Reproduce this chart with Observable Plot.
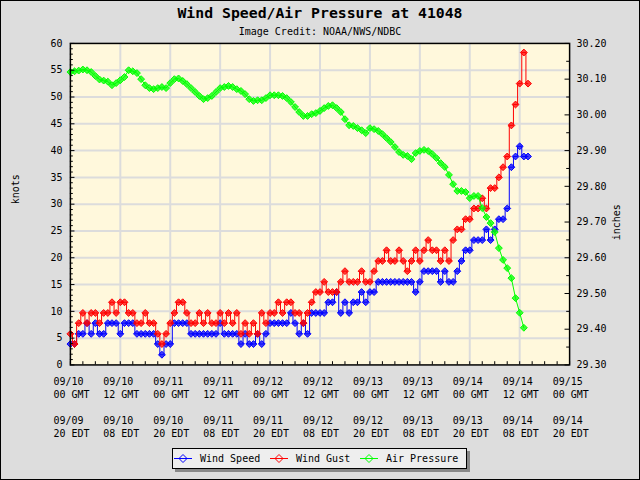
<!DOCTYPE html>
<html><head><meta charset="utf-8">
<script src="https://cdn.jsdelivr.net/npm/d3@7"></script>
<script src="https://cdn.jsdelivr.net/npm/@observablehq/plot@0.6"></script>
<style>
html,body{margin:0;padding:0;background:#DDDDDD;}
#chart{position:relative;width:640px;height:480px;background:#DDDDDD;box-sizing:border-box;border:1px solid #000;overflow:hidden;font-family:"DejaVu Sans Mono",monospace;color:#000;}
#title{position:absolute;left:0;width:638px;top:3px;text-align:center;font-weight:bold;font-size:14.8px;line-height:18px;}
#sub{position:absolute;left:0;width:638px;top:24px;text-align:center;font-size:10px;line-height:13px;}
#plot{position:absolute;left:-1px;top:-1px;}
#legend{position:absolute;left:171px;top:447px;width:293px;height:19px;background:#EEEEEE;border:1px solid #000;box-shadow:3px 3px 0 #888;font-size:10px;}
#legend .sw{position:absolute;top:4px;}
#legend .lb{position:absolute;top:3px;line-height:13px;white-space:pre;}
</style></head>
<body>
<div id="chart">
  <div id="title">Wind Speed/Air Pressure at 41048</div>
  <div id="sub">Image Credit: NOAA/NWS/NDBC</div>
  <div id="plot"></div>
  <div id="legend"></div>
</div>
<script>
// ---- data (hourly, starting 2018-09-10 00:00 GMT) ----
const windSpeed = [
 3.9,3.9,5.8,5.8,7.8,5.8,7.8,5.8,5.8,7.8,
 7.8,7.8,5.8,7.8,7.8,7.8,5.8,5.8,5.8,5.8,
 5.8,3.9,1.9,3.9,3.9,7.8,7.8,7.8,7.8,5.8,
 5.8,5.8,5.8,5.8,5.8,5.8,7.8,5.8,5.8,5.8,
 5.8,3.9,5.8,3.9,3.9,5.8,3.9,5.8,7.8,7.8,
 7.8,7.8,7.8,9.7,7.8,5.8,7.8,5.8,9.7,9.7,
 9.7,9.7,11.7,11.7,13.6,9.7,11.7,9.7,11.7,11.7,
 13.6,11.7,13.6,13.6,15.5,15.5,15.5,15.5,15.5,15.5,
 15.5,15.5,15.5,13.6,15.5,17.5,17.5,17.5,17.5,15.5,
 17.5,15.5,15.5,17.5,19.4,21.4,21.4,23.3,23.3,23.3,
 25.3,23.3,25.3,27.2,27.2,29.2,36.9,38.9,40.8,38.9,
 38.9
];
const windGust = [
 5.8,3.9,7.8,9.7,7.8,9.7,9.7,7.8,9.7,9.7,
 11.7,9.7,11.7,11.7,9.7,9.7,7.8,7.8,9.7,7.8,
 7.8,5.8,3.9,5.8,7.8,9.7,11.7,11.7,9.7,7.8,
 7.8,9.7,7.8,9.7,7.8,7.8,9.7,7.8,9.7,7.8,
 9.7,5.8,7.8,5.8,7.8,5.8,9.7,7.8,9.7,9.7,
 11.7,9.7,11.7,11.7,9.7,9.7,7.8,9.7,11.7,13.6,
 13.6,15.5,13.6,13.6,13.6,15.5,17.5,15.5,15.5,15.5,
 17.5,15.5,15.5,17.5,19.4,19.4,21.4,19.4,19.4,21.4,
 19.4,17.5,19.4,21.4,19.4,21.4,23.3,21.4,21.4,19.4,
 21.4,19.4,23.3,25.3,25.3,27.2,27.2,29.2,29.2,31.1,
 29.2,33.0,33.0,35.0,36.9,38.9,44.7,48.6,52.5,58.3,
 52.5
];
const airPressure = [
 30.120,30.122,30.124,30.127,30.125,30.120,30.109,30.099,30.096,30.093,
 30.083,30.089,30.097,30.106,30.125,30.122,30.117,30.100,30.083,30.075,
 30.072,30.075,30.078,30.075,30.089,30.100,30.102,30.095,30.086,30.075,
 30.064,30.053,30.044,30.047,30.053,30.064,30.075,30.078,30.081,30.078,
 30.072,30.067,30.058,30.044,30.039,30.041,30.041,30.047,30.055,30.055,
 30.055,30.053,30.047,30.036,30.022,30.008,29.997,29.997,30.002,30.005,
 30.011,30.019,30.025,30.027,30.019,30.008,29.988,29.971,29.969,29.963,
 29.957,29.949,29.963,29.960,29.955,29.946,29.935,29.924,29.910,29.896,
 29.888,29.885,29.876,29.893,29.899,29.902,29.899,29.890,29.879,29.865,
 29.854,29.832,29.806,29.787,29.787,29.784,29.767,29.773,29.773,29.739,
 29.714,29.697,29.672,29.627,29.594,29.571,29.543,29.487,29.446,29.404
];
// tick labels
const gmtDate = ["09/10","09/10","09/11","09/11","09/12","09/12","09/13","09/13","09/14","09/14","09/15"];
const gmtHour = ["00 GMT","12 GMT","00 GMT","12 GMT","00 GMT","12 GMT","00 GMT","12 GMT","00 GMT","12 GMT","00 GMT"];
const edtDate = ["09/09","09/10","09/10","09/11","09/11","09/12","09/12","09/13","09/13","09/14","09/14"];
const edtHour = ["20 EDT","08 EDT","20 EDT","08 EDT","20 EDT","08 EDT","20 EDT","08 EDT","20 EDT","08 EDT","20 EDT"];
const knotTicks = [0,5,10,15,20,25,30,35,40,45,50,55,60];
const inchTicks = [29.30,29.40,29.50,29.60,29.70,29.80,29.90,30.00,30.10,30.20];
const seriesNames = ["Wind Speed","Wind Gust","Air Pressure"];
const seriesColors = ["#0000FF","#FF0000","#00FF00"];

// ---- build ----
const t0 = Date.UTC(2018,8,10,0);
const H = 3600e3;
const start = new Date(t0), end = new Date(t0 + 120*H);
const at = h => new Date(t0 + h*H);
const pMin = 29.3, pMax = 30.2, kMax = 60;
const toKt = p => (p - pMin) / (pMax - pMin) * kMax;

const ws = windSpeed.map((v,i)=>({t:at(i), v}));
const wg = windGust.map((v,i)=>({t:at(i), v}));
const ap = airPressure.map((v,i)=>({t:at(i), v: toKt(v)}));

const majorX = gmtDate.map((d,i)=>at(i*12));
const gridX = majorX.slice(1,-1);
const minorX = d3.range(0,121,3).map(at);
const minorK = d3.range(0,61,1);
const minorP = d3.range(0,19).map(i => toKt(pMin + i*0.05));
const majorP = inchTicks.map(toKt);

const dotOpts = (c) => ({x:"t", y:"v", symbol:"diamond2", r:3.1, stroke: c, fill: c, fillOpacity: 0.75, strokeWidth: 1});

const plot = Plot.plot({
  width: 640, height: 480,
  marginLeft: 70, marginRight: 70, marginTop: 43, marginBottom: 115,
  style: {background: "transparent", fontFamily: "DejaVu Sans Mono", fontSize: "10px", color: "#000", overflow: "visible"},
  x: {type: "utc", domain: [start, end], axis: null},
  y: {domain: [0, 60], axis: null},
  marks: [
    Plot.frame({fill: "#FFF8DC", stroke: null}),
    Plot.ruleX(gridX, {x: d=>d, stroke: "#DCDCDC", strokeWidth: 2}),
    Plot.ruleY(knotTicks.slice(1,-1), {y: d=>d, stroke: "#DCDCDC", strokeWidth: 2}),
    // series
    Plot.line(ws, {x:"t", y:"v", stroke: seriesColors[0], strokeWidth: 1, curve: "step"}),
    Plot.dot(ws, dotOpts(seriesColors[0])),
    Plot.line(wg, {x:"t", y:"v", stroke: seriesColors[1], strokeWidth: 1, curve: "step"}),
    Plot.dot(wg, dotOpts(seriesColors[1])),
    Plot.line(ap, {x:"t", y:"v", stroke: seriesColors[2], strokeWidth: 1}),
    Plot.dot(ap, dotOpts(seriesColors[2])),
    // ticks (inside)
    Plot.ruleX(minorX, {x: d=>d, y1: 0, y2: 0.6, stroke: "#000"}),
    Plot.ruleY(minorK, {y: d=>d, x1: () => start, x2: d => (d % 5 === 0 ? at(1.1) : at(0.7)), stroke: "#000"}),
    Plot.ruleY(minorP, {y: d=>d, x1: () => end, x2: (d,i) => (i % 2 === 0 ? at(120-1.1) : at(120-0.7)), stroke: "#000"}),
    Plot.frame({stroke: "#000", strokeWidth: 1.5}),
    // tick labels
    Plot.text(knotTicks, {y: d=>d, frameAnchor: "left", dx: -8, textAnchor: "end", text: d=>String(d), fill:"#000"}),
    Plot.text(majorP, {y: d=>d, frameAnchor: "right", dx: 7, textAnchor: "start", text: (d,i)=>inchTicks[i].toFixed(2), fill:"#000"}),
    Plot.text(majorX, {x: d=>d, frameAnchor: "bottom", dy: 22.5, dx: -17, textAnchor: "start", lineAnchor: "middle", lineHeight: 1.3, text: (d,i)=>gmtDate[i]+"\n"+gmtHour[i], fill:"#000"}),
    Plot.text(majorX, {x: d=>d, frameAnchor: "bottom", dy: 61.5, dx: -17, textAnchor: "start", lineAnchor: "middle", lineHeight: 1.3, text: (d,i)=>edtDate[i]+"\n"+edtHour[i], fill:"#000"}),
    Plot.text(["knots"], {frameAnchor: "left", dx: -55, rotate: -90, text: d=>d, fill:"#000"}),
    Plot.text(["inches"], {frameAnchor: "right", dx: 47, rotate: -90, text: d=>d, fill:"#000"})
  ]
});
document.getElementById("plot").appendChild(plot);

// legend
const lg = document.getElementById("legend");
const swX = [1, 97, 187], lbX = [27, 123, 213];
seriesNames.forEach((name, i) => {
  const s = d3.create("svg").attr("class","sw").attr("width",18).attr("height",11)
    .style("left", swX[i]+"px");
  s.append("line").attr("x1",0).attr("x2",18).attr("y1",5.5).attr("y2",5.5).attr("stroke",seriesColors[i]);
  s.append("path").attr("d","M9,1.5L13,5.5L9,9.5L5,5.5Z").attr("fill","none").attr("stroke",seriesColors[i]);
  lg.appendChild(s.node());
  const t = document.createElement("div");
  t.className = "lb"; t.style.left = lbX[i]+"px"; t.textContent = name;
  lg.appendChild(t);
});
</script>
</body></html>
